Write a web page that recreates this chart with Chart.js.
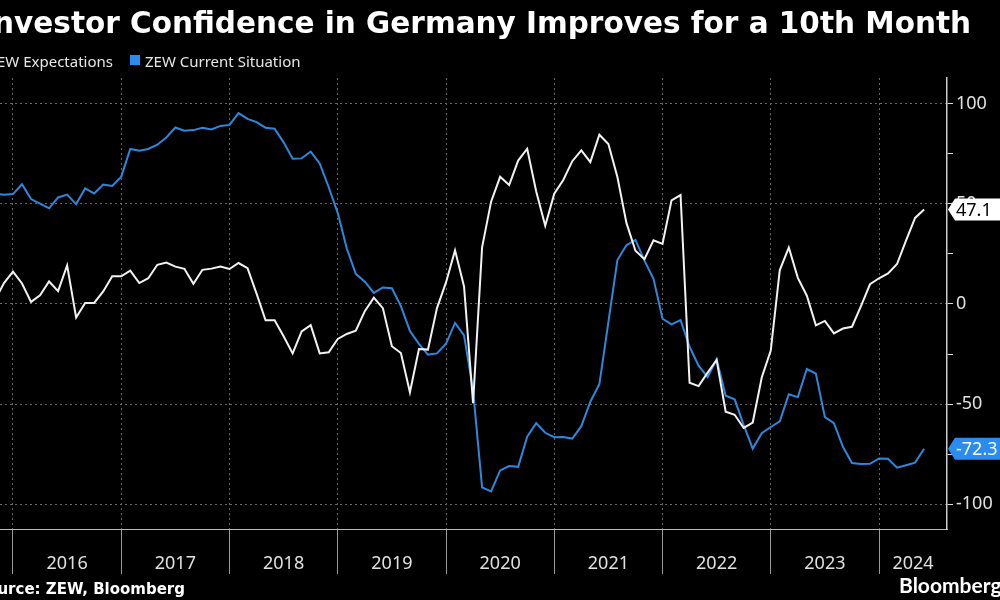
<!DOCTYPE html>
<html><head><meta charset="utf-8">
<script src="https://cdn.jsdelivr.net/npm/chart.js@4.4.0/dist/chart.umd.min.js"></script>
<style>html,body{margin:0;padding:0;background:#000;overflow:hidden}canvas{display:block}</style>
</head><body><canvas id="c" width="1000" height="600"></canvas>
<script>
const titleText = 'Investor Confidence in Germany Improves for a 10th Month';
const seriesNames = ['ZEW Expectations', 'ZEW Current Situation'];
const sourceText = 'Source: ZEW, Bloomberg';
const brandText = 'Bloomberg';
const startYear = 2015, startMonth = 10; // first monthly observation (Oct 2015)
const expectations = [
  1.9, 10.4, 16.1,
  10.2, 1.0, 4.3, 11.2, 6.4, 19.2, -6.8, 0.5, 0.5, 6.2, 13.8, 13.8,
  16.6, 10.4, 12.8, 19.5, 20.6, 18.6, 17.5, 10.0, 17.0, 17.6, 18.7, 17.4,
  20.4, 17.8, 5.1, -8.2, -8.2, -16.1, -24.7, -13.7, -10.6, -24.7, -24.1, -17.5,
  -15.0, -13.4, -3.6, 3.1, -2.1, -21.1, -24.5, -44.1, -22.5, -22.8, -2.1, 10.7,
  26.7, 8.7, -49.5, 28.2, 51.0, 63.4, 59.3, 71.5, 77.4, 56.1, 39.0, 55.0,
  61.8, 71.2, 76.6, 70.7, 84.4, 79.8, 63.3, 40.4, 26.5, 22.3, 31.7, 29.9,
  51.7, 54.3, -39.3, -41.0, -34.3, -28.0, -53.8, -55.3, -61.9, -59.2, -36.7, -23.3,
  16.9, 28.1, 13.0, 4.1, -10.7, -8.5, -14.7, -12.3, -11.4, -1.1, 9.8, 12.8,
  15.2, 19.9, 31.7, 42.9, 47.1
];
const currentSituation = [
  55.2, 54.4, 54.8,
  59.7, 52.3, 50.0, 47.7, 53.1, 54.5, 49.8, 57.6, 55.1, 59.5, 58.8, 63.5,
  77.3, 76.4, 77.3, 79.4, 83.0, 88.0, 86.4, 86.7, 87.9, 87.0, 88.8, 89.3,
  95.2, 92.3, 90.7, 87.9, 87.4, 80.6, 72.4, 72.6, 76.0, 70.1, 58.2, 45.3,
  27.6, 15.0, 11.1, 5.5, 8.2, 7.8, -1.1, -13.5, -19.9, -25.3, -24.7, -19.9,
  -9.5, -15.7, -43.1, -91.5, -93.5, -83.1, -80.9, -81.3, -66.2, -59.5, -64.3, -66.5,
  -66.4, -67.2, -61.0, -48.8, -40.1, -9.1, 21.9, 29.3, 31.9, 21.6, 12.5, -7.4,
  -10.2, -8.1, -21.4, -30.8, -36.5, -27.6, -45.8, -47.6, -60.5, -72.2, -64.5, -61.4,
  -58.6, -45.1, -46.5, -32.5, -34.8, -56.5, -59.5, -71.3, -79.4, -79.9, -79.8, -77.1,
  -77.3, -81.7, -80.5, -79.2, -72.3
];
const yearLabels = ['2016','2017','2018','2019','2020','2021','2022','2023','2024'];
const yTickValues = [-100, -75, -50, -25, 0, 25, 50, 75, 100];
const yLabelValues = [-100, -50, 0, 50, 100];

const WHITE = '#f2f2f2';
const BLUE = '#2f87dc';
const BLUE_BOX = '#2b8cf0';
const GRID = '#666';
const X_MIN = 2015.88, X_MAX = 2024.628;

// month-end positions on a year axis
const toPoints = arr => arr.map((v, i) => ({ x: startYear + (startMonth + i) / 12, y: v }));

// year boundaries + label slots (centre of each year span)
const yearStarts = yearLabels.map(Number);
const labelSlots = yearStarts.map((y, i) => i < yearStarts.length - 1 ? y + 0.5 : (y + X_MAX) / 2);
const xTickValues = [...yearStarts, ...labelSlots].sort((a, b) => a - b);
const isBoundary = v => Number.isInteger(v);

const overlay = {
  id: 'overlay',
  afterDraw(chart) {
    const ctx = chart.ctx;
    const ys = chart.scales.y;
    ctx.save();
    // title
    ctx.fillStyle = '#ffffff';
    ctx.font = 'bold 29.5px "DejaVu Sans"';
    ctx.textAlign = 'right';
    ctx.textBaseline = 'alphabetic';
    ctx.fillText(titleText, 971, 33);
    // legend
    ctx.font = '15px "Noto Sans"';
    ctx.textAlign = 'left';
    ctx.fillStyle = '#e6e6e6';
    const w1 = ctx.measureText(seriesNames[0]).width;
    const x1 = 113 - w1;
    ctx.fillText(seriesNames[0], x1, 67);
    ctx.fillStyle = WHITE;
    ctx.fillRect(x1 - 16, 55, 10, 10);
    ctx.fillStyle = BLUE_BOX;
    ctx.fillRect(130, 55, 10, 10);
    ctx.fillStyle = '#e6e6e6';
    ctx.fillText(seriesNames[1], 145, 67);
    // source
    ctx.fillStyle = '#ffffff';
    ctx.font = 'bold 15px "DejaVu Sans"';
    ctx.textAlign = 'right';
    ctx.fillText(sourceText, 185, 594);
    // brand
    ctx.font = 'bold 21px "Lato"';
    ctx.textAlign = 'left';
    ctx.fillText(brandText, 899, 593);
    // last value labels
    const axisX = chart.chartArea.right;
    chart.data.datasets.forEach((ds, i) => {
      const last = ds.data[ds.data.length - 1].y;
      const yc = ys.getPixelForValue(last);
      ctx.beginPath();
      ctx.moveTo(axisX + 1, yc);
      ctx.lineTo(axisX + 8, yc - 11);
      ctx.lineTo(1010, yc - 11);
      ctx.lineTo(1010, yc + 11);
      ctx.lineTo(axisX + 8, yc + 11);
      ctx.closePath();
      ctx.fillStyle = i === 0 ? '#ffffff' : BLUE_BOX;
      ctx.fill();
      ctx.fillStyle = i === 0 ? '#000000' : '#ffffff';
      ctx.font = '18px "Noto Sans"';
      ctx.textBaseline = 'middle';
      ctx.textAlign = 'left';
      ctx.fillText(last.toFixed(1), axisX + 9, yc + 1);
      ctx.textBaseline = 'alphabetic';
    });
    ctx.restore();
  }
};

new Chart(document.getElementById('c'), {
  type: 'line',
  data: {
    datasets: [
      { label: seriesNames[0], data: toPoints(expectations), borderColor: WHITE, borderWidth: 2, pointRadius: 0, tension: 0 },
      { label: seriesNames[1], data: toPoints(currentSituation), borderColor: BLUE, borderWidth: 2, pointRadius: 0, tension: 0 }
    ]
  },
  options: {
    responsive: false,
    animation: false,
    devicePixelRatio: 1,
    layout: { padding: { top: 78, left: 0, right: 0, bottom: 0 } },
    plugins: { legend: { display: false }, title: { display: false }, tooltip: { enabled: false } },
    scales: {
      x: {
        type: 'linear', position: 'bottom', min: X_MIN, max: X_MAX,
        afterBuildTicks: s => { s.ticks = xTickValues.map(v => ({ value: v })); },
        afterFit: s => { s.height = 71; },
        grid: {
          color: c => (c.tick && isBoundary(c.tick.value)) ? GRID : 'rgba(0,0,0,0)',
          tickColor: c => (c.tick && isBoundary(c.tick.value)) ? '#9a9a9a' : 'rgba(0,0,0,0)',
          tickLength: 45, lineWidth: 1
        },
        border: { color: '#bbbbbb', width: 1, dash: [2, 3] },
        ticks: {
          color: '#e0e0e0', font: { size: 18, family: '"Noto Sans"' }, padding: -21,
          autoSkip: false, maxRotation: 0, minRotation: 0,
          callback: v => {
            const i = labelSlots.findIndex(s => Math.abs(s - v) < 1e-6);
            return i >= 0 ? yearLabels[i] : '';
          }
        }
      },
      y: {
        type: 'linear', position: 'right', min: -112.3, max: 112.7,
        afterBuildTicks: s => { s.ticks = yTickValues.map(v => ({ value: v })); },
        afterFit: s => { s.width = 53; },
        grid: {
          color: c => (c.tick && yLabelValues.includes(c.tick.value)) ? GRID : 'rgba(0,0,0,0)',
          tickColor: '#dddddd', tickLength: 6, lineWidth: 1
        },
        border: { color: '#cccccc', width: 1.5, dash: [2, 3] },
        ticks: {
          color: '#e0e0e0', font: { size: 18, family: '"Noto Sans"' }, padding: 3,
          callback: v => yLabelValues.includes(v) ? String(v) : ''
        }
      }
    }
  },
  plugins: [overlay]
});
</script>
</body></html>
